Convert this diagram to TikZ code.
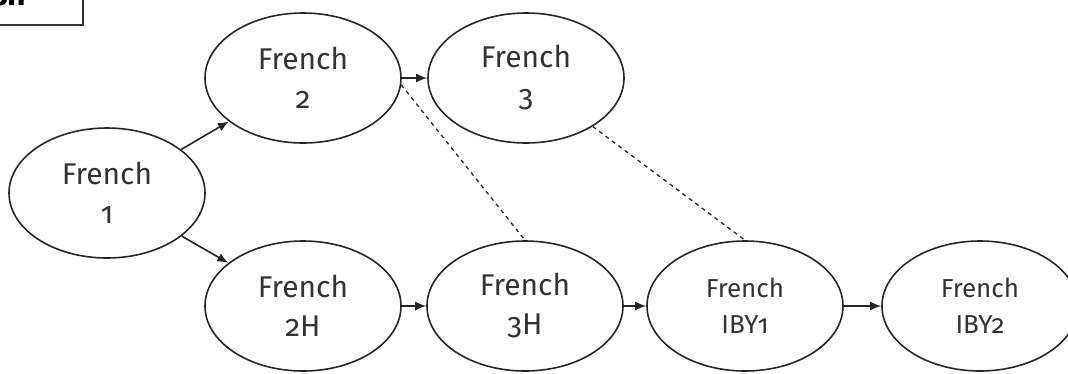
\documentclass[tikz,border=0pt]{standalone}
\usepackage{fontspec}
\setmainfont{Fira Sans}[Numbers=OldStyle]
\usetikzlibrary{shapes.geometric,arrows.meta}
\tikzset{
  ell/.style={ellipse, draw=black!85, line width=1.6pt, minimum width=196pt, minimum height=130pt, inner sep=0pt, align=center, text=black!80, font=\fontsize{30}{39}\selectfont},
  ellsmall/.style={ell, font=\fontsize{26}{36}\selectfont},
  arr/.style={line width=1.6pt, draw=black!85, -{Latex[length=11pt,width=9pt]}},
  dash line/.style={line width=1.3pt, draw=black!85, dash pattern=on 4pt off 4pt}
}
\begin{document}
\begin{tikzpicture}[x=1pt,y=-1pt]
\useasboundingbox (0,0) rectangle (1068,373);
\begin{scope}
\clip (0,0) rectangle (1068,373);
\draw[line width=1.2pt, draw=black!80] (-10,-10) rectangle (83,25);
\node[anchor=base west, inner sep=0pt, font=\fontsize{32}{32}\selectfont\bfseries] (lbl) at (-8,5) {sh};
\node[ell] (f1) at (107,193) {French\\1};
\node[ell] (f2) at (303,78) {French\\2};
\node[ell] (f3) at (526,78) {French\\3};
\node[ell] (f2h) at (303,306) {French\\2H};
\node[ell] (f3h) at (525,306) {French\\3H};
\node[ellsmall] (fi1) at (745,306) {French\\IBY1};
\node[ellsmall] (fi2) at (980,306) {French\\IBY2};
\end{scope}
\draw[arr] (f1) -- (f2);
\draw[arr] (f1) -- (f2h);
\draw[arr] (f2.east) -- (f3.west);
\draw[arr] (f2h) -- (f3h);
\draw[arr] (f3h) -- (fi1);
\draw[arr] (fi1) -- (fi2);
\draw[dash line] (f2.-4) -- (f3h.north);
\draw[dash line] (f3.-36) -- (fi1.north);
\end{tikzpicture}
\end{document}
